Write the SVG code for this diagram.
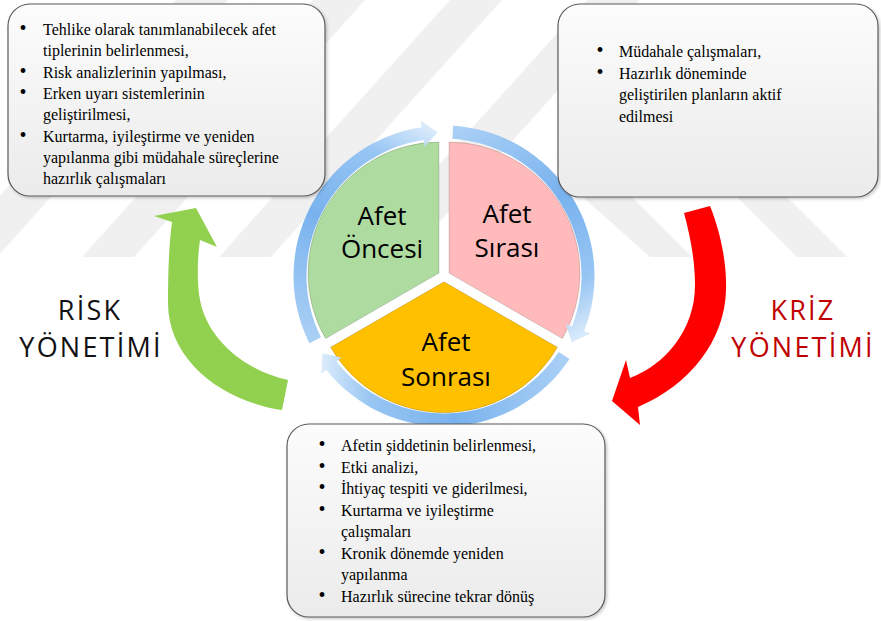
<svg xmlns="http://www.w3.org/2000/svg" width="881" height="621" viewBox="0 0 881 621">
  <defs>
    <linearGradient id="boxFill" x1="0" y1="0" x2="0" y2="1">
      <stop offset="0" stop-color="#fcfcfc"/>
      <stop offset="1" stop-color="#ebebeb"/>
    </linearGradient>
    <!-- shading of one ring arrow; the other two are rotated copies -->
    <linearGradient id="ringFill" gradientUnits="userSpaceOnUse" x1="315" y1="340" x2="438" y2="132">
      <stop offset="0" stop-color="#a9cff5"/>
      <stop offset="0.45" stop-color="#78b2ee"/>
      <stop offset="0.8" stop-color="#98c6f3"/>
      <stop offset="1" stop-color="#dbebfb"/>
    </linearGradient>
    <filter id="shadow" x="-5%" y="-5%" width="112%" height="115%">
      <feDropShadow dx="1.5" dy="1.5" stdDeviation="1.5" flood-color="#000" flood-opacity="0.22"/>
    </filter>
    <clipPath id="bandClip">
      <rect x="0" y="0" width="881" height="257"/>
    </clipPath>
    <style>
      .stripe { fill: #f0f0f0; }
      .box { fill: url(#boxFill); stroke: #5a5a5a; stroke-width: 1.2; filter: url(#shadow); }
      .body { font-family: "Liberation Serif", "Times New Roman", serif; font-size: 16px; fill: #000; }
      .bul { font-size: 20px; text-anchor: middle; }
      .phase { font-family: "Open Sans", "Noto Sans", sans-serif; font-size: 26px; fill: #000; text-anchor: middle; }
      .mgmt { font-family: "Open Sans", "Noto Sans", sans-serif; font-size: 27px; letter-spacing: 2.2px; text-anchor: middle; }
      .sector { stroke: #000; stroke-opacity: 0.15; stroke-width: 1; }
      .ring { fill: url(#ringFill); }
    </style>
  </defs>

  <rect width="881" height="621" fill="#ffffff"/>

  <!-- faint diagonal background band -->
  <g id="watermark" clip-path="url(#bandClip)">
    <polygon class="stripe" points="-55,257 -3,257 228,0 176,0"/>
    <polygon class="stripe" points="82,257 134,257 365,0 313,0"/>
    <polygon class="stripe" points="219,257 271,257 502,0 450,0"/>
    <polygon class="stripe" points="356,257 408,257 639,0 587,0"/>
    <polygon class="stripe" points="650,257 692,257 625,190 575,190"/>
    <polygon class="stripe" points="797,257 847,257 780,190 730,190"/>
  </g>

  <!-- central cycle: three exploded pie sectors -->
  <g id="cycle">
    <path id="sector-before" class="sector" fill="#aedba0" d="M438.98,273.1 L325.53,338.6 A131,131 0 0 1 438.98,142.1 Z"/>
    <path id="sector-during" class="sector" fill="#ffbbbb" d="M449.02,273.1 L449.02,142.1 A131,131 0 0 1 562.47,338.6 Z"/>
    <path id="sector-after" class="sector" fill="#ffc000" d="M444,281.8 L557.45,347.3 A131,131 0 0 1 330.55,347.3 Z"/>
  </g>

  <g id="connectors">
    <!-- curved arrows forming the outer ring -->
    <path id="ring-1" class="ring" d="M309.31,343.15 A150.5,150.5 0 0 1 421.75,127.15 L420.79,120.72 L437.72,132.14 L424.64,146.44 L423.68,140.01 A137.5,137.5 0 0 0 320.95,337.35 Z"/>
    <path id="ring-2" class="ring" transform="rotate(120 444 276)" d="M309.31,343.15 A150.5,150.5 0 0 1 421.75,127.15 L420.79,120.72 L437.72,132.14 L424.64,146.44 L423.68,140.01 A137.5,137.5 0 0 0 320.95,337.35 Z"/>
    <path id="ring-3" class="ring" transform="rotate(240 444 276)" d="M309.31,343.15 A150.5,150.5 0 0 1 421.75,127.15 L420.79,120.72 L437.72,132.14 L424.64,146.44 L423.68,140.01 A137.5,137.5 0 0 0 320.95,337.35 Z"/>

    <!-- risk management arrow (green, upward) -->
    <path id="arrow-risk" fill="#92d050" d="M282,410 C225,402 168,362 168,303 C168,270 169,245 172,222 L154,216 L196,208 L217,247 L200,240 C197,260 197,285 200,300 C207,338 243,370 288,380 Z"/>

    <!-- crisis management arrow (red, downward) -->
    <path id="arrow-crisis" fill="#ff0000" d="M684,213 L710,206 C719,228 727,260 726,290 C725,340 690,385 638,407 L640,425 L612,401 L626,360 L630,378 C665,365 695,330 695,285 C695,260 690,235 684,213 Z"/>
  </g>

  <!-- phase labels -->
  <g id="label-before">
    <text class="phase" x="382" y="225">Afet</text>
    <text class="phase" x="382" y="258">Öncesi</text>
  </g>
  <g id="label-during">
    <text class="phase" x="507" y="223">Afet</text>
    <text class="phase" x="507" y="257">Sırası</text>
  </g>
  <g id="label-after">
    <text class="phase" x="446" y="351">Afet</text>
    <text class="phase" x="446" y="386">Sonrası</text>
  </g>

  <!-- before-disaster tasks -->
  <g id="box-before">
    <rect class="box" x="8" y="4" width="317" height="192" rx="22" ry="22"/>
    <text class="body" y="35"><tspan class="bul" x="23">•</tspan><tspan x="43">Tehlike olarak tanımlanabilecek afet</tspan></text>
    <text class="body" x="43" y="56.3">tiplerinin belirlenmesi,</text>
    <text class="body" y="77.6"><tspan class="bul" x="23">•</tspan><tspan x="43">Risk analizlerinin yapılması,</tspan></text>
    <text class="body" y="98.9"><tspan class="bul" x="23">•</tspan><tspan x="43">Erken uyarı sistemlerinin</tspan></text>
    <text class="body" x="43" y="120.2">geliştirilmesi,</text>
    <text class="body" y="141.5"><tspan class="bul" x="23">•</tspan><tspan x="43">Kurtarma, iyileştirme ve yeniden</tspan></text>
    <text class="body" x="43" y="162.8">yapılanma gibi müdahale süreçlerine</text>
    <text class="body" x="43" y="184.1">hazırlık çalışmaları</text>
  </g>

  <!-- during-disaster tasks -->
  <g id="box-during">
    <rect class="box" x="558" y="4" width="320" height="193" rx="22" ry="22"/>
    <text class="body" y="57.3"><tspan class="bul" x="600">•</tspan><tspan x="619">Müdahale çalışmaları,</tspan></text>
    <text class="body" y="78.7"><tspan class="bul" x="600">•</tspan><tspan x="619">Hazırlık döneminde</tspan></text>
    <text class="body" x="619" y="100.1">geliştirilen planların aktif</text>
    <text class="body" x="619" y="121.5">edilmesi</text>
  </g>

  <!-- after-disaster tasks -->
  <g id="box-after">
    <rect class="box" x="287" y="424" width="318" height="193" rx="22" ry="22"/>
    <text class="body" y="451"><tspan class="bul" x="322">•</tspan><tspan x="341">Afetin şiddetinin belirlenmesi,</tspan></text>
    <text class="body" y="472.5"><tspan class="bul" x="322">•</tspan><tspan x="341">Etki analizi,</tspan></text>
    <text class="body" y="494"><tspan class="bul" x="322">•</tspan><tspan x="341">İhtiyaç tespiti ve giderilmesi,</tspan></text>
    <text class="body" y="515.5"><tspan class="bul" x="322">•</tspan><tspan x="341">Kurtarma ve iyileştirme</tspan></text>
    <text class="body" x="341" y="537">çalışmaları</text>
    <text class="body" y="558.5"><tspan class="bul" x="322">•</tspan><tspan x="341">Kronik dönemde yeniden</tspan></text>
    <text class="body" x="341" y="580">yapılanma</text>
    <text class="body" y="601.5"><tspan class="bul" x="322">•</tspan><tspan x="341">Hazırlık sürecine tekrar dönüş</tspan></text>
  </g>

  <!-- side captions -->
  <g id="label-risk">
    <text class="mgmt" x="90" y="320" fill="#111111">RİSK</text>
    <text class="mgmt" x="91" y="357" fill="#111111">YÖNETİMİ</text>
  </g>
  <g id="label-crisis">
    <text class="mgmt" x="803" y="320" fill="#c00000">KRİZ</text>
    <text class="mgmt" x="803" y="357" fill="#c00000">YÖNETİMİ</text>
  </g>
</svg>
